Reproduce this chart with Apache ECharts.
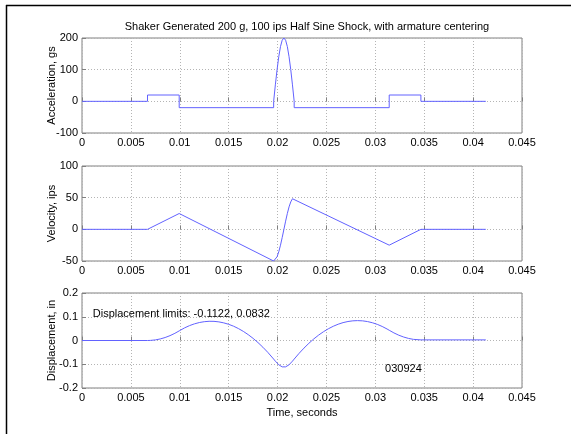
<!DOCTYPE html>
<html><head><meta charset="utf-8">
<script src="https://cdn.jsdelivr.net/npm/echarts@6/dist/echarts.min.js"></script>
<style>html,body{margin:0;padding:0;background:#fff}#c{width:571px;height:434px}</style>
</head><body><div id="c"></div>
<script>
// ---- data ----
var titleText = 'Shaker Generated 200 g, 100 ips Half Sine Shock, with armature centering';
var xTicks = [0, 0.005, 0.01, 0.015, 0.02, 0.025, 0.03, 0.035, 0.04, 0.045];
var accTicks = [-100, 0, 100, 200];
var velTicks = [-50, 0, 50, 100];
var dispTicks = [-0.2, -0.1, 0, 0.1, 0.2];

var accTime = [0, 0.0067, 0.0067, 0.00994, 0.00994, 0.0196, 0.0196, 0.019775, 0.01995, 0.020125, 0.0203, 0.020475, 0.02065, 0.020825, 0.021, 0.021175, 0.02135, 0.021525, 0.0217, 0.0217, 0.03142, 0.03142, 0.03466, 0.03466, 0.0413];
var accValues = [0, 0, 20, 20, -20, -20, 0, 52, 100, 141, 173, 193, 200, 193, 173, 141, 100, 52, 0, -20, -20, 20, 20, 0, 0];

var velTime = [0, 0.0067, 0.00994, 0.0196, 0.019775, 0.01995, 0.020125, 0.0203, 0.020475, 0.02065, 0.020825, 0.021, 0.021175, 0.02135, 0.021525, 0.0217, 0.03142, 0.03466, 0.0413];
var velValues = [0, 0, 25, -50, -48.3, -43.3, -35.4, -25, -12.9, 0, 12.9, 25, 35.4, 43.3, 48.3, 50, -25, 0, 0];

var dispTime = [0, 0.0067, 0.0070, 0.0075, 0.0080, 0.0085, 0.0090, 0.0095, 0.00994,
  0.0105, 0.0110, 0.0115, 0.0120, 0.0125, 0.0130, 0.0135, 0.0140, 0.0145, 0.0150, 0.0155, 0.0160, 0.0165, 0.0170, 0.0175, 0.0180, 0.0185, 0.0190, 0.0196,
  0.019775, 0.01995, 0.020125, 0.0203, 0.020475, 0.02065, 0.020825, 0.021, 0.021175, 0.02135, 0.021525, 0.0217,
  0.0222, 0.0227, 0.0232, 0.0237, 0.0242, 0.0247, 0.0252, 0.0257, 0.0262, 0.0267, 0.0272, 0.0277, 0.02818, 0.0287, 0.0292, 0.0297, 0.0302, 0.0307, 0.0312, 0.03142,
  0.0319, 0.0324, 0.0329, 0.0334, 0.0339, 0.03466, 0.0413];
var dispValues = [0, 0, 0.00035, 0.00247, 0.00652, 0.01251, 0.02042, 0.03026, 0.04052,
  0.0533, 0.0627, 0.0701, 0.0756, 0.0792, 0.0809, 0.0806, 0.0784, 0.0742, 0.0682, 0.0602, 0.0502, 0.0384, 0.0246, 0.0089, -0.0088, -0.0283, -0.0498, -0.0782,
  -0.0870, -0.0952, -0.1022, -0.1076, -0.1110, -0.1122, -0.1110, -0.1076, -0.1022, -0.0952, -0.0870, -0.0782,
  -0.0542, -0.0321, -0.0119, 0.0064, 0.0227, 0.0371, 0.0495, 0.0600, 0.0686, 0.0753, 0.0800, 0.0828, 0.0837, 0.0827, 0.0797, 0.0748, 0.0679, 0.0591, 0.0484, 0.0431,
  0.0320, 0.0223, 0.0146, 0.0087, 0.0048, 0.0026, 0.0026];

var annoLimits = {x: 0.0011, y: 0.11, text: 'Displacement limits: -0.1122, 0.0832'};
var annoDate = {x: 0.031, y: -0.12, text: '030924'};

// ---- chart ----
function zip(a, b) { return a.map(function (v, i) { return [v, b[i]]; }); }
var FONT = 'Liberation Sans';
var fmt = function (v) { return String(parseFloat(Number(v).toFixed(4))); };

var tops = [38, 166, 293];
var grids = tops.map(function (t) {
  return {left: 82, right: 49, top: t, height: 95, show: true, borderColor: '#808080', borderWidth: 1, backgroundColor: '#fff'};
});
function xa(i, showName) {
  return {
    type: 'value', gridIndex: i, min: 0, max: 0.045, interval: 0.005,
    axisLine: {show: false},
    axisTick: {show: true, inside: true, length: 4, lineStyle: {color: '#808080'}},
    axisLabel: {formatter: fmt, color: '#000', fontFamily: FONT, fontSize: 11, margin: 4, showMaxLabel: true, showMinLabel: true},
    splitLine: {show: true, lineStyle: {color: '#b4b4b4', type: [1, 2], width: 1}},
    name: showName ? 'Time, seconds' : '', nameLocation: 'middle', nameGap: 19, nameMoveOverlap: false,
    nameTextStyle: {color: '#000', fontFamily: FONT, fontSize: 11}
  };
}
function ya(i, mn, mx, iv, name) {
  return {
    type: 'value', gridIndex: i, min: mn, max: mx, interval: iv,
    axisLine: {show: false},
    axisTick: {show: true, inside: true, length: 4, lineStyle: {color: '#808080'}},
    axisLabel: {formatter: fmt, color: '#000', fontFamily: FONT, fontSize: 11, margin: 4},
    splitLine: {show: true, lineStyle: {color: '#b4b4b4', type: [1, 2], width: 1}},
    name: name, nameLocation: 'middle', nameRotate: 90, nameGap: 25, nameMoveOverlap: false,
    nameTextStyle: {color: '#000', fontFamily: FONT, fontSize: 11}
  };
}
var lineStyle = {color: '#6262ff', width: 1};
function ser(i, data) {
  return {type: 'line', xAxisIndex: i, yAxisIndex: i, data: data, showSymbol: false, symbol: 'none',
    lineStyle: lineStyle, animation: false, z: 3};
}

var chart = echarts.init(document.getElementById('c'), null, {renderer: 'canvas'});
chart.setOption({
  animation: false,
  title: {text: titleText, left: 302, textAlign: 'center', top: 16,
    textStyle: {fontFamily: FONT, fontSize: 11, fontWeight: 'normal', color: '#000'}},
  grid: grids,
  xAxis: [xa(0, false), xa(1, false), xa(2, true)],
  yAxis: [
    ya(0, accTicks[0], accTicks[accTicks.length - 1], 100, 'Acceleration, gs'),
    ya(1, velTicks[0], velTicks[velTicks.length - 1], 50, 'Velocity, ips'),
    ya(2, dispTicks[0], dispTicks[dispTicks.length - 1], 0.1, 'Displacement, in')
  ],
  series: [ser(0, zip(accTime, accValues)), ser(1, zip(velTime, velValues)), ser(2, zip(dispTime, dispValues))]
});

var p1 = chart.convertToPixel({xAxisIndex: 2, yAxisIndex: 2}, [annoLimits.x, annoLimits.y]);
var p2 = chart.convertToPixel({xAxisIndex: 2, yAxisIndex: 2}, [annoDate.x, annoDate.y]);
chart.setOption({
  graphic: [
    {type: 'line', shape: {x1: 6, y1: 5.5, x2: 571, y2: 5.5}, style: {stroke: '#000', lineWidth: 1.5}, z: 10},
    {type: 'line', shape: {x1: 6.5, y1: 5, x2: 6.5, y2: 434}, style: {stroke: '#000', lineWidth: 1.5}, z: 10},
    {type: 'text', x: p1[0], y: p1[1], style: {text: annoLimits.text, fontFamily: FONT, fontSize: 11, fill: '#000', textVerticalAlign: 'middle', textAlign: 'left'}, z: 10},
    {type: 'text', x: p2[0], y: p2[1], style: {text: annoDate.text, fontFamily: FONT, fontSize: 11, fill: '#000', textVerticalAlign: 'middle', textAlign: 'left'}, z: 10}
  ]
});
</script></body></html>
